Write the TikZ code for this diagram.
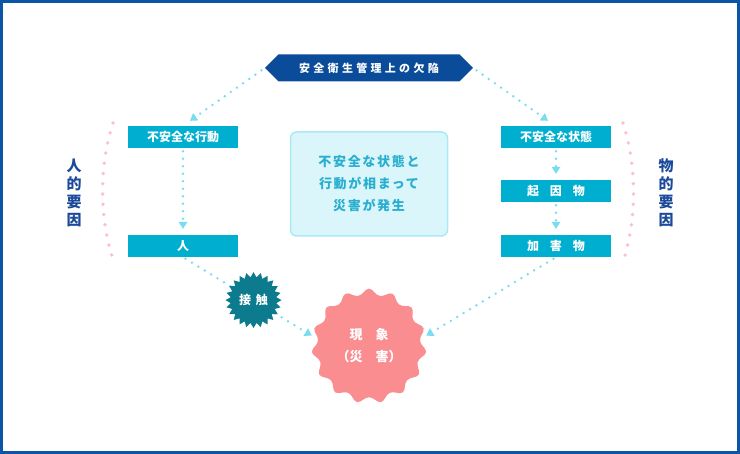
\documentclass[tikz,border=0pt]{standalone}
\usepackage{fontspec}
\setmainfont{Noto Sans CJK JP}
\usetikzlibrary{positioning,arrows.meta,shapes.symbols}
\definecolor{framebl}{HTML}{0C55A6}
\definecolor{headbl}{HTML}{0A4C9A}
\definecolor{boxcy}{HTML}{00AFCF}
\definecolor{dotcy}{HTML}{78DDF2}
\definecolor{notefill}{HTML}{DAF6FB}
\definecolor{noteline}{HTML}{A9EAF6}
\definecolor{notetext}{HTML}{2AAED0}
\definecolor{touchteal}{HTML}{0C7B8E}
\definecolor{burstpink}{HTML}{F98D90}
\definecolor{dotpk}{HTML}{F7C2CD}
\definecolor{factorbl}{HTML}{1A4A99}

\begin{document}
\begin{tikzpicture}[x=1pt, y=-1pt, node distance=54pt, on grid,
    head/.style={signal, signal to=west and east, fill=headbl, text=white,
      minimum width=208pt, minimum height=27pt, inner sep=0pt,
      font={\fontsize{11}{13}\selectfont\bfseries\addfontfeature{LetterSpace=30}}},
    cause/.style={fill=boxcy, text=white, minimum width=110pt,
      minimum height=22pt, inner sep=0pt, font={\fontsize{12}{14}\selectfont\bfseries}},
    note/.style={rounded corners=6pt, fill=notefill, draw=noteline, line width=1.5pt,
      minimum width=157pt, minimum height=104pt, text=notetext, align=center,
      font={\fontsize{13}{22}\selectfont\bfseries\addfontfeature{LetterSpace=13}}},
    factor/.style={text=factorbl, align=center, font={\fontsize{15}{18}\selectfont\bfseries}},
    burst/.style={starburst, random starburst=0, inner sep=0pt, text=white, align=center},
    link/.style={draw=dotcy, line width=2.7pt, line cap=round,
      dash pattern=on 0pt off 7.5pt, -{Triangle[width=9pt,length=7pt,line width=0pt]}},
    brace/.style={draw=dotpk, line width=3.8pt, line cap=round, dash pattern=on 0pt off 10.3pt}]
    \useasboundingbox (0,0) rectangle (740,454);
    \draw[framebl, line width=3pt] (1.5,1.5) rectangle (738.5,452.5);
    \node[head] (flaw) at (369,68) {安全衛生管理上の欠陥};%
    \node[cause] (act) [below left=69pt and 186pt of flaw] {不安全な行動};%
    \node[cause] (state) [below right=69pt and 187pt of flaw] {不安全な状態};%
    \node[cause] (person) [below=109pt of act] {人};%
    \node[cause] (origin) [below=of state] {起\hspace{11pt}因\hspace{11pt}物};%
    \node[cause] (harm) [below=55pt of origin] {加\hspace{11pt}害\hspace{11pt}物};%
    \node[note] (both) [below=116pt of flaw] {不安全な状態と\\行動が相まって\\災害が発生};%
    \node[burst, fill=burstpink, starburst points=15, starburst point height=9pt,
      minimum size=118pt, rounded corners=4pt, font={\fontsize{13}{22}\selectfont\bfseries}]
      (event) [below=162pt of both] {現\hspace{13pt}象\\（災\hspace{13pt}害）};%
    \node[factor] (human) [below left=56pt and 109pt of act] {人\\的\\要\\因};%
    \node[factor] (thing) [below right=56pt and 110pt of state] {物\\的\\要\\因};%
    \draw[brace] (113,123) .. controls (99,165) and (99,220) .. (114,262);
    \draw[brace] (623,123) .. controls (637,165) and (637,220) .. (623,262);
    \path (flaw.west) edge[link, shorten <=4pt] ([xshift=7pt,yshift=5pt]act.north)%
          (flaw.east) edge[link, shorten <=4pt] ([xshift=-8pt,yshift=5pt]state.north)%
          (act) edge[link, shorten <=3pt, shorten >=6pt] (person)%
          (state) edge[link, shorten <=3pt, shorten >=6pt] (origin)%
          (origin) edge[link, shorten <=3pt, shorten >=6pt] (harm)%
          (person.south) edge[link, shorten <=3pt, shorten >=8pt]
            node[burst, fill=touchteal, starburst points=24, starburst point height=5pt,
              minimum size=56pt, pos=.52, font={\fontsize{12}{14}\selectfont\bfseries}]
            {接\hspace{5pt}触} (event.173)%
          (harm.south) edge[link, shorten <=3pt, shorten >=8pt] (event.7);
\end{tikzpicture}
\end{document}
